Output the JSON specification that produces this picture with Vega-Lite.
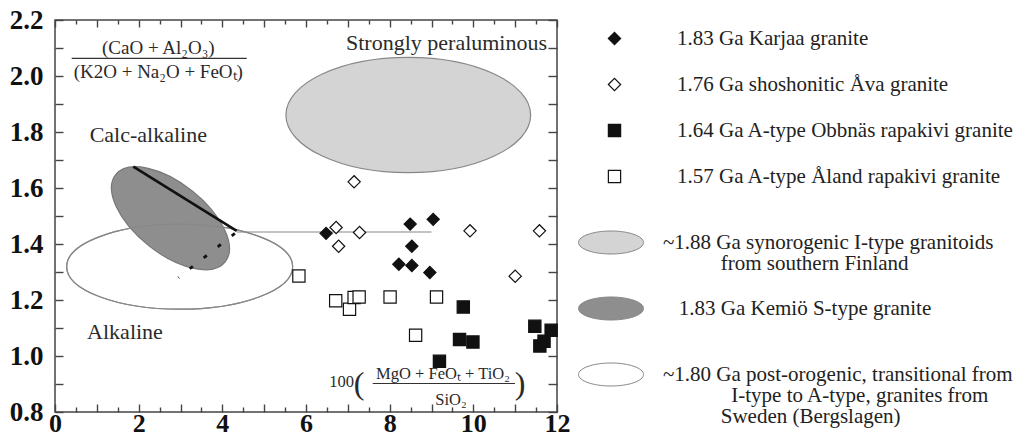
{
  "$schema": "https://vega.github.io/schema/vega-lite/v6.json",
  "width": 502,
  "height": 392,
  "autosize": {"type": "none"},
  "padding": {"left": 55, "top": 20, "right": 476, "bottom": 36},
  "background": "white",
  "config": {
    "view": {"stroke": "#444", "strokeWidth": 1.5},
    "font": "Liberation Serif",
    "style": {"guide-label": {"lineHeight": 21}}
  },
  "datasets": {
    "points": [
      {"group": "1.83 Ga Karjaa granite", "x": 6.48, "y": 1.438},
      {"group": "1.83 Ga Karjaa granite", "x": 8.49, "y": 1.471},
      {"group": "1.83 Ga Karjaa granite", "x": 9.04, "y": 1.488},
      {"group": "1.83 Ga Karjaa granite", "x": 8.53, "y": 1.392},
      {"group": "1.83 Ga Karjaa granite", "x": 8.22, "y": 1.328},
      {"group": "1.83 Ga Karjaa granite", "x": 8.53, "y": 1.323},
      {"group": "1.83 Ga Karjaa granite", "x": 8.96, "y": 1.298},
      {"group": "1.76 Ga shoshonitic Åva granite", "x": 7.15, "y": 1.622},
      {"group": "1.76 Ga shoshonitic Åva granite", "x": 6.72, "y": 1.459},
      {"group": "1.76 Ga shoshonitic Åva granite", "x": 7.28, "y": 1.441},
      {"group": "1.76 Ga shoshonitic Åva granite", "x": 6.78, "y": 1.392},
      {"group": "1.76 Ga shoshonitic Åva granite", "x": 9.92, "y": 1.447},
      {"group": "1.76 Ga shoshonitic Åva granite", "x": 11.58, "y": 1.447},
      {"group": "1.76 Ga shoshonitic Åva granite", "x": 11.0, "y": 1.285},
      {"group": "1.64 Ga A-type Obbnäs rapakivi granite", "x": 9.76, "y": 1.175},
      {"group": "1.64 Ga A-type Obbnäs rapakivi granite", "x": 9.67, "y": 1.059},
      {"group": "1.64 Ga A-type Obbnäs rapakivi granite", "x": 9.99, "y": 1.05},
      {"group": "1.64 Ga A-type Obbnäs rapakivi granite", "x": 9.19, "y": 0.981},
      {"group": "1.64 Ga A-type Obbnäs rapakivi granite", "x": 11.47, "y": 1.106},
      {"group": "1.64 Ga A-type Obbnäs rapakivi granite", "x": 11.86, "y": 1.092},
      {"group": "1.64 Ga A-type Obbnäs rapakivi granite", "x": 11.59, "y": 1.036},
      {"group": "1.64 Ga A-type Obbnäs rapakivi granite", "x": 11.69, "y": 1.053},
      {"group": "1.57 Ga A-type Åland rapakivi granite", "x": 5.83, "y": 1.286},
      {"group": "1.57 Ga A-type Åland rapakivi granite", "x": 6.71, "y": 1.197},
      {"group": "1.57 Ga A-type Åland rapakivi granite", "x": 7.04, "y": 1.167},
      {"group": "1.57 Ga A-type Åland rapakivi granite", "x": 7.15, "y": 1.209},
      {"group": "1.57 Ga A-type Åland rapakivi granite", "x": 7.27, "y": 1.211},
      {"group": "1.57 Ga A-type Åland rapakivi granite", "x": 8.01, "y": 1.211},
      {"group": "1.57 Ga A-type Åland rapakivi granite", "x": 9.12, "y": 1.211},
      {"group": "1.57 Ga A-type Åland rapakivi granite", "x": 8.62, "y": 1.074}
    ],
    "ellipses": [
      {"region": "~1.88 Ga synorogenic I-type granitoids from southern Finland", "x": 8.445, "y": 1.8605},
      {"region": "1.83 Ga Kemiö S-type granite", "x": 2.76, "y": 1.492},
      {"region": "~1.80 Ga post-orogenic, transitional from I-type to A-type, granites from Sweden (Bergslagen)", "x": 2.98, "y": 1.319}
    ],
    "lines": [
      {"kind": "solid", "x": 1.872, "y": 1.676, "x2": 4.343, "y2": 1.447},
      {"kind": "thin", "x": 4.343, "y": 1.443, "x2": 9.0, "y2": 1.443},
      {"kind": "dashed", "x": 4.3, "y": 1.438, "x2": 2.95, "y2": 1.28},
      {"kind": "fraction", "x": 0.399, "y": 2.063, "x2": 4.583, "y2": 2.063},
      {"kind": "fraction", "x": 7.595, "y": 0.902, "x2": 10.996, "y2": 0.902}
    ],
    "labels": [
      {"kind": "big", "x": 9.359, "y": 2.118, "text": "Strongly peraluminous"},
      {"kind": "big", "x": 2.23, "y": 1.789, "text": "Calc-alkaline"},
      {"kind": "big", "x": 1.673, "y": 1.086, "text": "Alkaline"},
      {"kind": "frac", "x": 2.469, "y": 2.099, "text": "(CaO + Al₂O₃)"},
      {"kind": "frac", "x": 2.469, "y": 2.015, "text": "(K2O + Na₂O + FeOₜ)"},
      {"kind": "formula", "x": 6.849, "y": 0.907, "text": "100"},
      {"kind": "formula", "x": 9.275, "y": 0.935, "text": "MgO + FeOₜ + TiO₂"},
      {"kind": "formula", "x": 9.466, "y": 0.842, "text": "SiO₂"},
      {"kind": "paren", "x": 7.267, "y": 0.901, "text": "("},
      {"kind": "paren", "x": 11.116, "y": 0.901, "text": ")"}
    ]
  },
  "layer": [
    {
      "data": {"name": "ellipses"},
      "layer": [
        {
          "transform": [{"filter": "indexof(datum.region, '~1.80') === 0"}],
          "mark": {"type": "point", "filled": true, "opacity": 1, "shape": "M-1,0A1,0.376 0 1,1 1,0A1,0.376 0 1,1 -1,0Z", "size": 51076, "stroke": "#888", "strokeWidth": 1.2},
          "encoding": {
            "x": {"field": "x", "type": "quantitative", "scale": {"domain": [0, 12], "nice": false, "zero": false}, "axis": null},
            "y": {"field": "y", "type": "quantitative", "scale": {"domain": [0.8, 2.2], "nice": false, "zero": false}, "axis": null},
            "color": {
              "field": "region", "type": "nominal",
              "scale": {"domain": ["~1.88 Ga synorogenic I-type granitoids from southern Finland", "1.83 Ga Kemiö S-type granite", "~1.80 Ga post-orogenic, transitional from I-type to A-type, granites from Sweden (Bergslagen)"], "range": ["#d4d4d4", "#8e8e8e", "#ffffff"]},
              "legend": {
                "title": null, "orient": "none", "direction": "vertical", "legendX": 523, "legendY": 189.5, "padding": 0,
                "symbolType": "M-1,0A1,0.354 0 1,1 1,0A1,0.354 0 1,1 -1,0Z", "symbolSize": 4225,
                "symbolStrokeColor": "#888", "symbolStrokeWidth": 1,
                "labelFont": "Liberation Serif", "labelFontSize": 21, "labelColor": "#222", "labelOffset": 19, "labelLimit": 0,
                "labelBaseline": "middle", "rowPadding": 2,
                "labelExpr": "indexof(datum.label, '~1.88') === 0 ? ['~1.88 Ga synorogenic I-type granitoids', '\u200b\u00a0\u00a0\u00a0\u00a0\u00a0\u00a0\u00a0\u00a0\u00a0\u00a0\u00a0from southern Finland'] : indexof(datum.label, '~1.80') === 0 ? ['~1.80 Ga post-orogenic, transitional from', '\u200b\u00a0\u00a0\u00a0\u00a0\u00a0\u00a0\u00a0\u00a0\u00a0\u00a0\u00a0\u00a0\u00a0I-type to A-type, granites from', '\u200b\u00a0\u00a0\u00a0\u00a0\u00a0\u00a0\u00a0\u00a0\u00a0\u00a0\u00a0Sweden (Bergslagen)'] : ['\u200b\u00a0\u00a0\u00a0' + datum.label, '']"
              }
            }
          }
        },
        {
          "transform": [{"filter": "indexof(datum.region, '1.83') === 0"}],
          "mark": {"type": "point", "filled": true, "opacity": 1, "shape": "M-1,0A1,0.5 0 1,1 1,0A1,0.5 0 1,1 -1,0Z", "size": 19600, "angle": 38.5, "stroke": "#777", "strokeWidth": 1.2},
          "encoding": {
            "x": {"field": "x", "type": "quantitative", "scale": {"domain": [0, 12], "nice": false, "zero": false}, "axis": null},
            "y": {"field": "y", "type": "quantitative", "scale": {"domain": [0.8, 2.2], "nice": false, "zero": false}, "axis": null},
            "color": {"field": "region", "type": "nominal", "legend": null}
          }
        },
        {
          "transform": [{"filter": "indexof(datum.region, '~1.88') === 0"}],
          "mark": {"type": "point", "filled": true, "opacity": 1, "shape": "M-1,0A1,0.471 0 1,1 1,0A1,0.471 0 1,1 -1,0Z", "size": 59900, "stroke": "#888", "strokeWidth": 1.2},
          "encoding": {
            "x": {"field": "x", "type": "quantitative", "scale": {"domain": [0, 12], "nice": false, "zero": false}, "axis": null},
            "y": {"field": "y", "type": "quantitative", "scale": {"domain": [0.8, 2.2], "nice": false, "zero": false}, "axis": null},
            "color": {"field": "region", "type": "nominal", "legend": null}
          }
        },
        {
          "transform": [{"filter": "indexof(datum.region, '~1.80') === 0"}],
          "mark": {"type": "point", "filled": false, "opacity": 1, "shape": "M-1,0A1,0.376 0 1,1 1,0A1,0.376 0 1,1 -1,0Z", "size": 51076, "stroke": "#888", "strokeWidth": 1.2},
          "encoding": {
            "x": {"field": "x", "type": "quantitative", "scale": {"domain": [0, 12], "nice": false, "zero": false}, "axis": null},
            "y": {"field": "y", "type": "quantitative", "scale": {"domain": [0.8, 2.2], "nice": false, "zero": false}, "axis": null}
          }
        }
      ]
    },
    {
      "data": {"name": "lines"},
      "transform": [{"filter": "datum.kind === 'thin'"}],
      "mark": {"type": "rule", "stroke": "#888", "strokeWidth": 1.1},
      "encoding": {
        "x": {
          "field": "x", "type": "quantitative", "scale": {"domain": [0, 12], "nice": false, "zero": false},
          "axis": {
            "orient": "bottom", "title": null, "grid": false, "domain": false, "labels": false,
            "values": [0.5, 1.5, 2.5, 3.5, 4.5, 5.5, 6.5, 7.5, 8.5, 9.5, 10.5, 11.5],
            "tickSize": -5, "tickColor": "#444", "tickWidth": 1.4
          }
        },
        "y": {"field": "y", "type": "quantitative", "scale": {"domain": [0.8, 2.2], "nice": false, "zero": false}, "axis": null},
        "x2": {"field": "x2"},
        "y2": {"field": "y2"}
      }
    },
    {
      "data": {"name": "lines"},
      "transform": [{"filter": "datum.kind === 'solid'"}],
      "mark": {"type": "rule", "stroke": "#111", "strokeWidth": 2.6},
      "encoding": {
        "x": {
          "field": "x", "type": "quantitative", "scale": {"domain": [0, 12], "nice": false, "zero": false},
          "axis": {
            "orient": "top", "title": null, "grid": false, "domain": false, "labels": false,
            "values": [0.5, 1.5, 2.5, 3.5, 4.5, 5.5, 6.5, 7.5, 8.5, 9.5, 10.5, 11.5],
            "tickSize": -4, "tickColor": "#444", "tickWidth": 1.4
          }
        },
        "y": {"field": "y", "type": "quantitative", "scale": {"domain": [0.8, 2.2], "nice": false, "zero": false}, "axis": null},
        "x2": {"field": "x2"},
        "y2": {"field": "y2"}
      }
    },
    {
      "data": {"name": "lines"},
      "transform": [{"filter": "datum.kind === 'dashed'"}],
      "mark": {"type": "rule", "stroke": "#111", "strokeWidth": 2.8, "strokeDash": [4, 13.8]},
      "encoding": {
        "x": {"field": "x", "type": "quantitative", "scale": {"domain": [0, 12], "nice": false, "zero": false}, "axis": null},
        "y": {"field": "y", "type": "quantitative", "scale": {"domain": [0.8, 2.2], "nice": false, "zero": false}, "axis": null},
        "x2": {"field": "x2"},
        "y2": {"field": "y2"}
      }
    },
    {
      "data": {"name": "lines"},
      "transform": [{"filter": "datum.kind === 'fraction'"}],
      "mark": {"type": "rule", "stroke": "#333", "strokeWidth": 1.1},
      "encoding": {
        "x": {"field": "x", "type": "quantitative", "scale": {"domain": [0, 12], "nice": false, "zero": false}, "axis": null},
        "y": {"field": "y", "type": "quantitative", "scale": {"domain": [0.8, 2.2], "nice": false, "zero": false}, "axis": null},
        "x2": {"field": "x2"},
        "y2": {"field": "y2"}
      }
    },
    {
      "data": {"name": "points"},
      "mark": {"type": "point", "filled": true, "opacity": 1, "size": 150, "stroke": "#111", "strokeWidth": 1.2},
      "encoding": {
        "x": {
          "field": "x", "type": "quantitative", "scale": {"domain": [0, 12], "nice": false, "zero": false},
          "axis": {
            "orient": "bottom", "title": null, "grid": false, "domain": false,
            "values": [0, 1, 2, 3, 4, 5, 6, 7, 8, 9, 10, 11, 12],
            "labelExpr": "datum.value % 2 === 0 ? format(datum.value, 'd') : ''",
            "tickSize": -8, "tickColor": "#444", "tickWidth": 1.4,
            "labelFont": "Liberation Serif", "labelFontWeight": "bold", "labelFontSize": 26, "labelColor": "#111",
            "labelPadding": 6, "labelFlush": false, "labelOverlap": false, "labelBound": false
          }
        },
        "y": {
          "field": "y", "type": "quantitative", "scale": {"domain": [0.8, 2.2], "nice": false, "zero": false},
          "axis": {
            "orient": "left", "title": null, "grid": false, "domain": false,
            "values": [0.8, 0.9, 1, 1.1, 1.2, 1.3, 1.4, 1.5, 1.6, 1.7, 1.8, 1.9, 2, 2.1, 2.2],
            "labelExpr": "round(datum.value * 10) % 2 === 0 ? format(datum.value, '.1f') : ''",
            "tickSize": -8, "tickColor": "#444", "tickWidth": 1.4,
            "labelFont": "Liberation Serif", "labelFontWeight": "bold", "labelFontSize": 27, "labelColor": "#111",
            "labelPadding": 20, "labelFlush": false, "labelOverlap": false, "labelBound": false
          }
        },
        "shape": {
          "field": "group", "type": "nominal",
          "scale": {"domain": ["1.83 Ga Karjaa granite", "1.76 Ga shoshonitic Åva granite", "1.64 Ga A-type Obbnäs rapakivi granite", "1.57 Ga A-type Åland rapakivi granite"], "range": ["diamond", "diamond", "square", "square"]},
          "legend": {
            "title": null, "orient": "none", "direction": "vertical", "legendX": 549, "legendY": 8, "padding": 0,
            "symbolSize": 150, "symbolStrokeWidth": 1.2,
            "labelFont": "Liberation Serif", "labelFontSize": 21, "labelColor": "#222", "labelOffset": 52, "labelLimit": 0,
            "rowPadding": 24
          }
        },
        "fill": {
          "field": "group", "type": "nominal",
          "scale": {"domain": ["1.83 Ga Karjaa granite", "1.76 Ga shoshonitic Åva granite", "1.64 Ga A-type Obbnäs rapakivi granite", "1.57 Ga A-type Åland rapakivi granite"], "range": ["#111111", "#ffffff", "#111111", "#ffffff"]},
          "legend": {
            "title": null, "orient": "none", "direction": "vertical", "legendX": 549, "legendY": 8, "padding": 0,
            "symbolSize": 150, "symbolStrokeWidth": 1.2,
            "labelFont": "Liberation Serif", "labelFontSize": 21, "labelColor": "#222", "labelOffset": 52, "labelLimit": 0,
            "rowPadding": 24
          }
        }
      }
    },
    {
      "data": {"name": "labels"},
      "transform": [{"filter": "datum.kind === 'big'"}],
      "mark": {"type": "text", "font": "Liberation Serif", "fontSize": 22, "color": "#2a2a2a", "align": "center", "baseline": "middle"},
      "encoding": {
        "x": {
          "field": "x", "type": "quantitative", "scale": {"domain": [0, 12], "nice": false, "zero": false},
          "axis": {
            "orient": "top", "title": null, "grid": false, "domain": false, "labels": false,
            "values": [0, 1, 2, 3, 4, 5, 6, 7, 8, 9, 10, 11, 12],
            "tickSize": -7, "tickColor": "#444", "tickWidth": 1.4
          }
        },
        "y": {
          "field": "y", "type": "quantitative", "scale": {"domain": [0.8, 2.2], "nice": false, "zero": false},
          "axis": {
            "orient": "right", "title": null, "grid": false, "domain": false, "labels": false,
            "values": [0.8, 0.9, 1, 1.1, 1.2, 1.3, 1.4, 1.5, 1.6, 1.7, 1.8, 1.9, 2, 2.1, 2.2],
            "tickSize": -9, "tickColor": "#444", "tickWidth": 1.4
          }
        },
        "text": {"field": "text"}
      }
    },
    {
      "data": {"name": "labels"},
      "transform": [{"filter": "datum.kind === 'frac'"}],
      "mark": {"type": "text", "font": "Liberation Serif", "fontSize": 19, "color": "#2a2a2a", "align": "center", "baseline": "middle"},
      "encoding": {
        "x": {"field": "x", "type": "quantitative", "scale": {"domain": [0, 12], "nice": false, "zero": false}, "axis": null},
        "y": {"field": "y", "type": "quantitative", "scale": {"domain": [0.8, 2.2], "nice": false, "zero": false}, "axis": null},
        "text": {"field": "text"}
      }
    },
    {
      "data": {"name": "labels"},
      "transform": [{"filter": "datum.kind === 'formula'"}],
      "mark": {"type": "text", "font": "Liberation Serif", "fontSize": 16.5, "color": "#2a2a2a", "align": "center", "baseline": "middle"},
      "encoding": {
        "x": {"field": "x", "type": "quantitative", "scale": {"domain": [0, 12], "nice": false, "zero": false}, "axis": null},
        "y": {"field": "y", "type": "quantitative", "scale": {"domain": [0.8, 2.2], "nice": false, "zero": false}, "axis": null},
        "text": {"field": "text"}
      }
    },
    {
      "data": {"name": "labels"},
      "transform": [{"filter": "datum.kind === 'paren'"}],
      "mark": {"type": "text", "font": "Liberation Serif", "fontSize": 32, "color": "#2a2a2a", "align": "center", "baseline": "middle"},
      "encoding": {
        "x": {"field": "x", "type": "quantitative", "scale": {"domain": [0, 12], "nice": false, "zero": false}, "axis": null},
        "y": {"field": "y", "type": "quantitative", "scale": {"domain": [0.8, 2.2], "nice": false, "zero": false}, "axis": null},
        "text": {"field": "text"}
      }
    }
  ],
  "resolve": {"axis": {"x": "independent", "y": "independent"}}
}
